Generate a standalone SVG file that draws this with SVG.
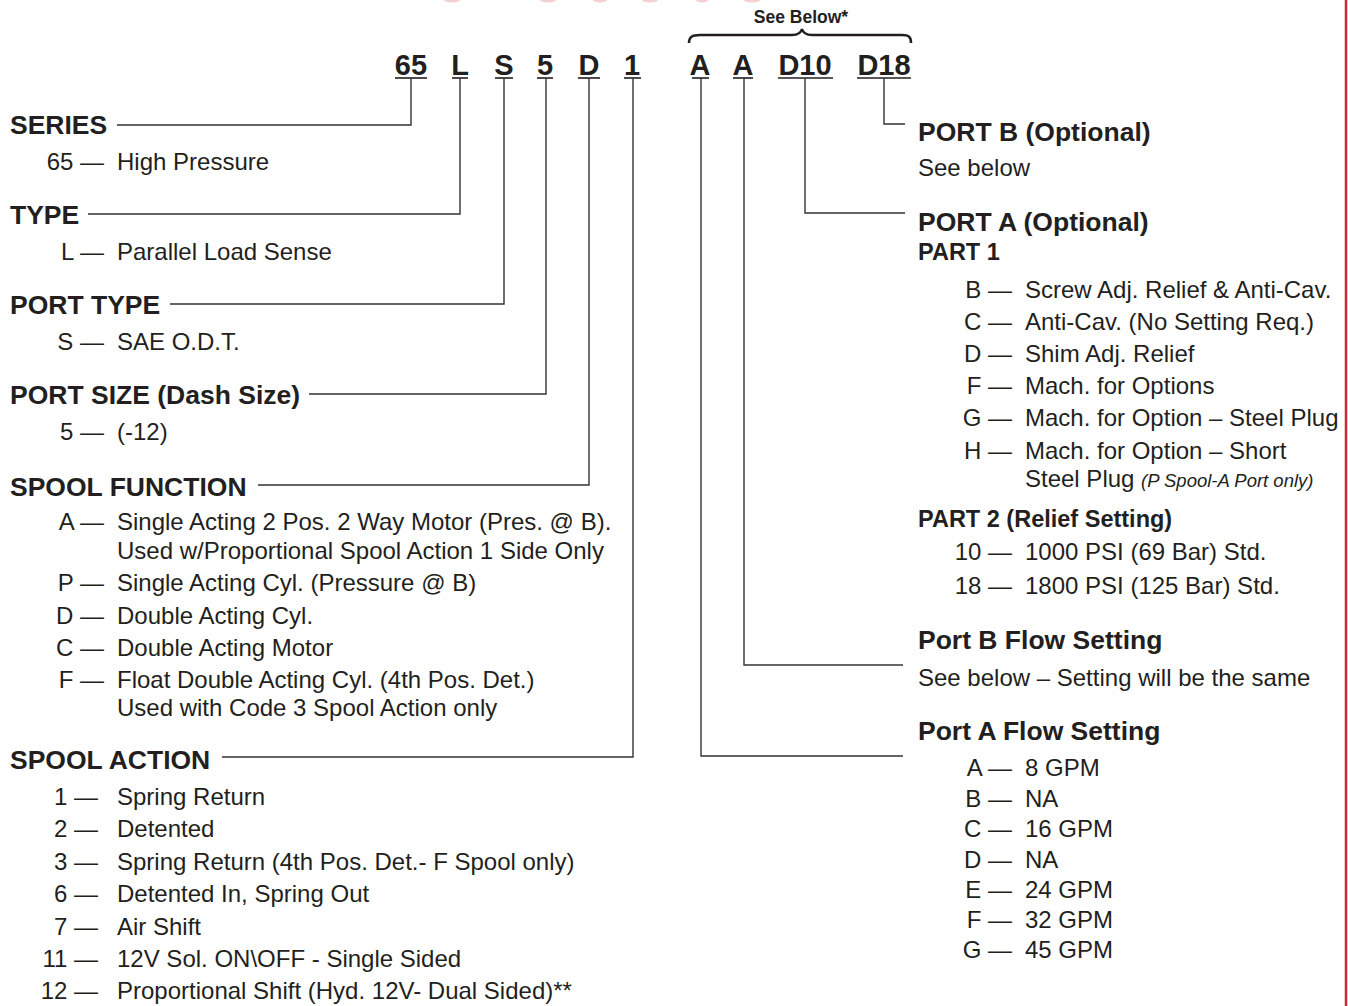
<svg xmlns="http://www.w3.org/2000/svg" width="1348" height="1006" viewBox="0 0 1348 1006">
<style>
text{font-family:"Liberation Sans",Arial,Helvetica,sans-serif;fill:#231f20}
.code{font-size:29px;font-weight:bold;text-anchor:middle}
.h{font-size:26.5px;font-weight:bold}
.s{font-size:23.5px;font-weight:bold}
.t{font-size:24px}
.c{font-size:24px;text-anchor:end}
.note{font-size:18.5px;font-style:italic}
.sb{font-size:17.5px;font-weight:bold;text-anchor:middle}
.ln{stroke:#333;stroke-width:1.4;fill:none}
.ul{stroke:#231f20;stroke-width:1.6}
</style>
<rect width="1348" height="1006" fill="#fff"/>
<g id="title-fragments" fill="#f5d0d0">
<ellipse cx="452" cy="0" rx="8" ry="2.5"/>
<ellipse cx="548" cy="0" rx="8" ry="2.5"/>
<ellipse cx="600" cy="0" rx="7" ry="2.5"/>
<ellipse cx="650" cy="0" rx="8" ry="2.5"/>
<ellipse cx="702" cy="0" rx="6" ry="2.5"/>
<ellipse cx="752" cy="0" rx="8" ry="2.5"/>
</g>
<line x1="1346" y1="0" x2="1346" y2="1006" stroke="#d7262b" stroke-width="2.5"/>
<g id="code">
<text class="code" x="411" y="75">65</text>
<text class="code" x="460" y="75">L</text>
<text class="code" x="504" y="75">S</text>
<text class="code" x="545" y="75">5</text>
<text class="code" x="589" y="75">D</text>
<text class="code" x="632" y="75">1</text>
<text class="code" x="700" y="75">A</text>
<text class="code" x="743" y="75">A</text>
<text class="code" x="805" y="75">D10</text>
<text class="code" x="884" y="75">D18</text>
<line class="ul" x1="395" y1="78" x2="427" y2="78"/>
<line class="ul" x1="452" y1="78" x2="468" y2="78"/>
<line class="ul" x1="495" y1="78" x2="513" y2="78"/>
<line class="ul" x1="537" y1="78" x2="553" y2="78"/>
<line class="ul" x1="578" y1="78" x2="600" y2="78"/>
<line class="ul" x1="624" y1="78" x2="641" y2="78"/>
<line class="ul" x1="692" y1="78" x2="709" y2="78"/>
<line class="ul" x1="733" y1="78" x2="753" y2="78"/>
<line class="ul" x1="778" y1="78" x2="833" y2="78"/>
<line class="ul" x1="857" y1="78" x2="911" y2="78"/>
</g>
<g id="brace">
<text class="sb" x="801" y="23">See Below*</text>
<path d="M689,43 C689,37 692,35 700,35 L792,35 C798,35 801,33 802,29 C803,33 806,35 812,35 L902,35 C909,35 911,37 911,43" fill="none" stroke="#231f20" stroke-width="2.5"/>
</g>
<g id="connectors">
<polyline class="ln" points="117,125 411,125 411,78"/>
<polyline class="ln" points="88,214 460,214 460,78"/>
<polyline class="ln" points="170,304 504,304 504,78"/>
<polyline class="ln" points="309,394 546,394 546,78"/>
<polyline class="ln" points="258,485 589,485 589,78"/>
<polyline class="ln" points="222,757 633,757 633,78"/>
<polyline class="ln" points="884,78 884,124 905,124"/>
<polyline class="ln" points="805,78 805,213 905,213"/>
<polyline class="ln" points="744,78 744,665 903,665"/>
<polyline class="ln" points="701,78 701,756 903,756"/>
</g>
<g id="series">
<text class="h" x="10" y="134">SERIES</text>
<text class="c" x="104" y="170">65 —</text><text class="t" x="117" y="170">High Pressure</text>
</g>
<g id="type">
<text class="h" x="10" y="224">TYPE</text>
<text class="c" x="104" y="260">L —</text><text class="t" x="117" y="260">Parallel Load Sense</text>
</g>
<g id="port-type">
<text class="h" x="10" y="314">PORT TYPE</text>
<text class="c" x="104" y="350">S —</text><text class="t" x="117" y="350">SAE O.D.T.</text>
</g>
<g id="port-size">
<text class="h" x="10" y="404">PORT SIZE (Dash Size)</text>
<text class="c" x="104" y="440">5 —</text><text class="t" x="117" y="440">(-12)</text>
</g>
<g id="spool-function">
<text class="h" x="10" y="496">SPOOL FUNCTION</text>
<text class="c" x="104" y="530">A —</text><text class="t" x="117" y="530">Single Acting 2 Pos. 2 Way Motor (Pres. @ B).</text>
<text class="t" x="117" y="559">Used w/Proportional Spool Action 1 Side Only</text>
<text class="c" x="104" y="591">P —</text><text class="t" x="117" y="591">Single Acting Cyl. (Pressure @ B)</text>
<text class="c" x="104" y="624">D —</text><text class="t" x="117" y="624">Double Acting Cyl.</text>
<text class="c" x="104" y="656">C —</text><text class="t" x="117" y="656">Double Acting Motor</text>
<text class="c" x="104" y="688">F —</text><text class="t" x="117" y="688">Float Double Acting Cyl. (4th Pos. Det.)</text>
<text class="t" x="117" y="716">Used with Code 3 Spool Action only</text>
</g>
<g id="spool-action">
<text class="h" x="10" y="769">SPOOL ACTION</text>
<text class="c" x="98" y="805">1 —</text><text class="t" x="117" y="805">Spring Return</text>
<text class="c" x="98" y="837">2 —</text><text class="t" x="117" y="837">Detented</text>
<text class="c" x="98" y="870">3 —</text><text class="t" x="117" y="870">Spring Return (4th Pos. Det.- F Spool only)</text>
<text class="c" x="98" y="902">6 —</text><text class="t" x="117" y="902">Detented In, Spring Out</text>
<text class="c" x="98" y="935">7 —</text><text class="t" x="117" y="935">Air Shift</text>
<text class="c" x="98" y="967">11 —</text><text class="t" x="117" y="967">12V Sol. ON\OFF - Single Sided</text>
<text class="c" x="98" y="999">12 —</text><text class="t" x="117" y="999">Proportional Shift (Hyd. 12V- Dual Sided)**</text>
</g>
<g id="port-b">
<text class="h" x="918" y="141">PORT B (Optional)</text>
<text class="t" x="918" y="176">See below</text>
</g>
<g id="port-a">
<text class="h" x="918" y="231">PORT A (Optional)</text>
<text class="s" x="918" y="260">PART 1</text>
<text class="c" x="1012" y="298">B —</text><text class="t" x="1025" y="298">Screw Adj. Relief &amp; Anti-Cav.</text>
<text class="c" x="1012" y="330">C —</text><text class="t" x="1025" y="330">Anti-Cav. (No Setting Req.)</text>
<text class="c" x="1012" y="362">D —</text><text class="t" x="1025" y="362">Shim Adj. Relief</text>
<text class="c" x="1012" y="394">F —</text><text class="t" x="1025" y="394">Mach. for Options</text>
<text class="c" x="1012" y="426">G —</text><text class="t" x="1025" y="426">Mach. for Option – Steel Plug</text>
<text class="c" x="1012" y="459">H —</text><text class="t" x="1025" y="459">Mach. for Option – Short</text>
<text class="t" x="1025" y="487">Steel Plug <tspan class="note">(P Spool-A Port only)</tspan></text>
<text class="s" x="918" y="527">PART 2 (Relief Setting)</text>
<text class="c" x="1012" y="560">10 —</text><text class="t" x="1025" y="560">1000 PSI (69 Bar) Std.</text>
<text class="c" x="1012" y="594">18 —</text><text class="t" x="1025" y="594">1800 PSI (125 Bar) Std.</text>
</g>
<g id="port-b-flow">
<text class="h" x="918" y="649">Port B Flow Setting</text>
<text class="t" x="918" y="686">See below – Setting will be the same</text>
</g>
<g id="port-a-flow">
<text class="h" x="918" y="740">Port A Flow Setting</text>
<text class="c" x="1012" y="776">A —</text><text class="t" x="1025" y="776">8 GPM</text>
<text class="c" x="1012" y="807">B —</text><text class="t" x="1025" y="807">NA</text>
<text class="c" x="1012" y="837">C —</text><text class="t" x="1025" y="837">16 GPM</text>
<text class="c" x="1012" y="868">D —</text><text class="t" x="1025" y="868">NA</text>
<text class="c" x="1012" y="898">E —</text><text class="t" x="1025" y="898">24 GPM</text>
<text class="c" x="1012" y="928">F —</text><text class="t" x="1025" y="928">32 GPM</text>
<text class="c" x="1012" y="958">G —</text><text class="t" x="1025" y="958">45 GPM</text>
</g>
</svg>
